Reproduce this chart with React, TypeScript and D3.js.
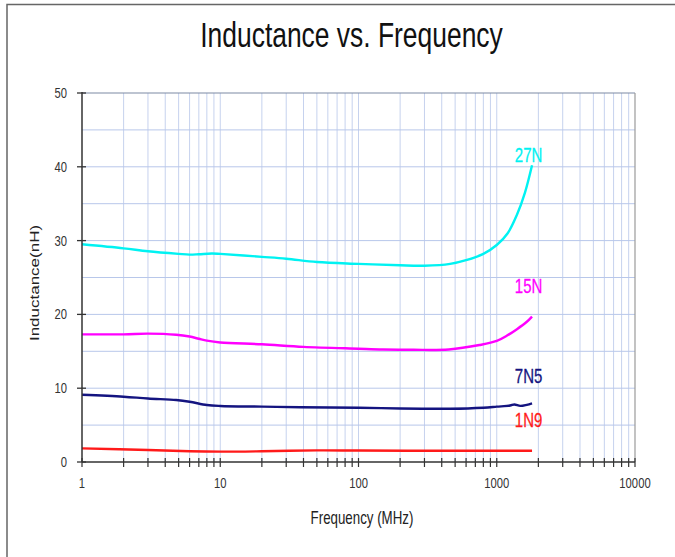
import React from 'react';
import * as d3 from 'd3';

// readings taken off the curve sheet: [frequency MHz, inductance nH]
const series27N: [number, number][] = [
  [1, 29.5], [2, 28.95], [3, 28.55], [5, 28.2], [6, 28.1], [7, 28.15], [8.7, 28.25], [10, 28.2],
  [20, 27.8], [30, 27.55], [50, 27.1], [100, 26.85], [200, 26.65], [300, 26.6], [460, 26.85],
  [600, 27.35], [800, 28.2], [1000, 29.4], [1200, 31.0], [1400, 33.5], [1600, 36.5], [1800, 40.2],
];
const series15N: [number, number][] = [
  [1, 17.3], [2, 17.3], [3, 17.4], [4.8, 17.25], [6, 17.0], [7, 16.7], [8, 16.45], [10, 16.2],
  [20, 15.95], [40, 15.6], [100, 15.35], [150, 15.25], [250, 15.2], [450, 15.25], [750, 15.85],
  [1000, 16.4], [1180, 17.1], [1400, 18.0], [1650, 19.0], [1800, 19.7],
];
const series7N5: [number, number][] = [
  [1, 9.12], [2, 8.85], [3, 8.6], [4.8, 8.4], [6, 8.17], [8, 7.72], [10, 7.59], [20, 7.5],
  [38, 7.42], [100, 7.36], [200, 7.25], [460, 7.22], [800, 7.36], [1000, 7.5], [1250, 7.65],
  [1340, 7.8], [1480, 7.6], [1650, 7.75], [1800, 7.95],
];
const series1N9: [number, number][] = [
  [1, 1.85], [3, 1.63], [6, 1.45], [10, 1.4], [20, 1.45], [50, 1.57], [100, 1.55], [300, 1.53],
  [1000, 1.52], [1800, 1.52],
];

const seriesNames = ['27N', '15N', '7N5', '1N9'];
const seriesColors = ['#00f2f2', '#ff00ff', '#141480', '#ff1a1a'];
// where each curve name sits, in data units
const labelFreq = [1700, 1700, 1700, 1700];
const labelValue = [40.6, 22.9, 10.75, 4.74];

const xTicks = [1, 10, 100, 1000, 10000];
const yTicks = [0, 10, 20, 30, 40, 50];
const yGrid = [5, 10, 15, 20, 25, 30, 35, 40, 45];

const W = 675;
const H = 557;
const SQ = 0.75; // the sheet's type is horizontally squeezed

const x = d3.scaleLog().domain([1, 10000]).range([82, 635]);
const y = d3.scaleLinear().domain([0, 50]).range([462, 93]);

const minorTicks: number[] = [];
for (let d = 1; d < 10000; d *= 10) {
  for (let m = 2; m <= 9; m++) minorTicks.push(d * m);
}

const line = d3
  .line<[number, number]>()
  .x(d => x(d[0]))
  .y(d => y(d[1]))
  .curve(d3.curveCatmullRom.alpha(0.5));

const font = 'Liberation Sans, Arial, sans-serif';

export default function App() {
  const all = [series27N, series15N, series7N5, series1N9];
  return (
    <svg width={W} height={H} style={{ position: 'absolute', left: 0, top: 0, background: '#fff' }}>
      <rect x={0} y={0} width={W} height={H} fill="#fff" />
      {/* outer frame */}
      <rect x={7} y={4.5} width={W + 20} height={H + 20} fill="none" stroke="#666" strokeWidth={1.5} />

      <text
        transform={`translate(351.5,47) scale(0.755,1)`}
        textAnchor="middle"
        fontFamily={font}
        fontSize={35}
        fill="#111"
      >
        Inductance vs. Frequency
      </text>

      {/* grid */}
      {minorTicks.concat([10, 100, 1000]).map(t => (
        <line key={'v' + t} x1={x(t)} x2={x(t)} y1={y(50)} y2={y(0)} stroke="#c6d2ee" strokeWidth={1} />
      ))}
      {yGrid.map(t => (
        <line key={'h' + t} x1={x(1)} x2={x(10000)} y1={y(t)} y2={y(t)} stroke="#b8c7ea" strokeWidth={1} />
      ))}
      <line x1={x(1)} x2={x(10000)} y1={y(50)} y2={y(50)} stroke="#7d8aa3" strokeWidth={1.2} />
      <line x1={x(10000)} x2={x(10000)} y1={y(50)} y2={y(0)} stroke="#9a9a9a" strokeWidth={1.2} />

      {/* curves */}
      {all.map((s, i) => (
        <path key={seriesNames[i]} d={line(s) || ''} fill="none" stroke={seriesColors[i]} strokeWidth={2.4} />
      ))}
      {seriesNames.map((n, i) => (
        <text
          key={'l' + n}
          transform={`translate(${x(labelFreq[i])},${y(labelValue[i])}) scale(${SQ},1)`}
          textAnchor="middle"
          fontFamily={font}
          fontSize={20}
          fill={seriesColors[i]}
          stroke={seriesColors[i]}
          strokeWidth={0.3}
        >
          {n}
        </text>
      ))}

      {/* axes */}
      <line x1={x(1)} x2={x(1)} y1={y(50) - 1} y2={y(0)} stroke="#333" strokeWidth={1.5} />
      <line x1={x(1)} x2={x(10000)} y1={y(0)} y2={y(0)} stroke="#333" strokeWidth={1.5} />
      {yTicks.map(t => (
        <g key={'yt' + t}>
          <line x1={77} x2={86} y1={y(t)} y2={y(t)} stroke="#333" strokeWidth={1.3} />
          <text
            transform={`translate(67,${y(t) + 5}) scale(${SQ},1)`}
            textAnchor="end"
            fontFamily={font}
            fontSize={15}
            fill="#333"
          >
            {t}
          </text>
        </g>
      ))}
      {minorTicks.concat(xTicks).map(t => (
        <line key={'xt' + t} x1={x(t)} x2={x(t)} y1={458} y2={467} stroke="#333" strokeWidth={1.2} />
      ))}
      {xTicks.map(t => (
        <text
          key={'xl' + t}
          transform={`translate(${x(t)},488) scale(${SQ},1)`}
          textAnchor="middle"
          fontFamily={font}
          fontSize={15}
          fill="#333"
        >
          {t}
        </text>
      ))}

      <text
        transform={`translate(362,524) scale(0.74,1)`}
        textAnchor="middle"
        fontFamily={font}
        fontSize={18}
        fill="#222"
      >
        Frequency (MHz)
      </text>
      <text
        transform={`translate(39,283) rotate(-90) scale(1,${SQ})`}
        textAnchor="middle"
        fontFamily={font}
        fontSize={17}
        fill="#222"
      >
        Inductance(nH)
      </text>
    </svg>
  );
}
